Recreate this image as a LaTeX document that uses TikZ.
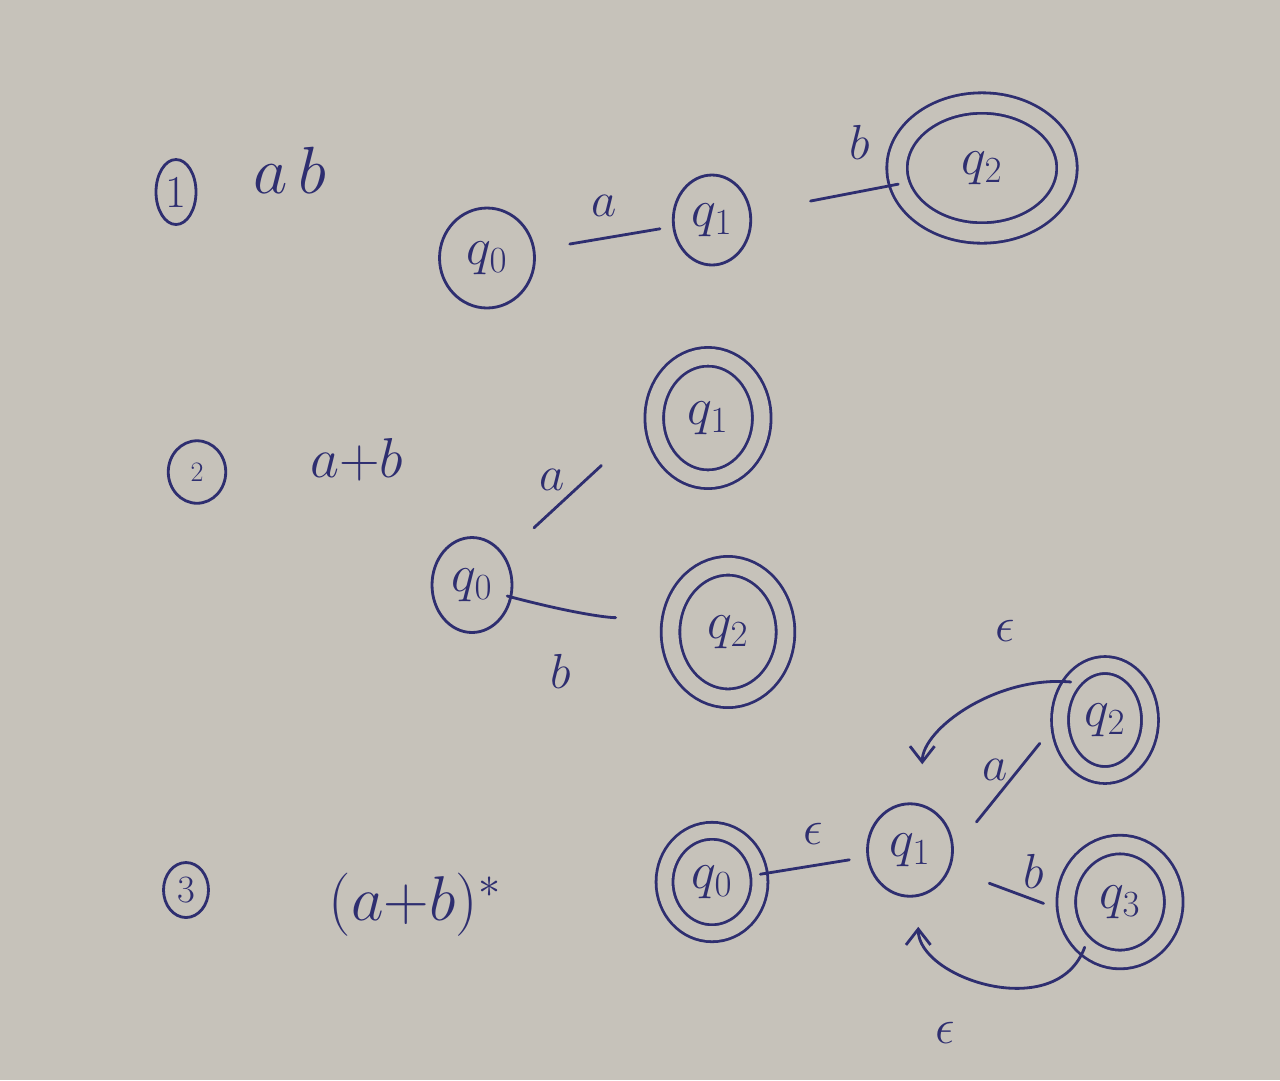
\RequirePackage{fix-cm}
\documentclass[tikz,border=0pt]{standalone}
\usepackage{amsmath,amssymb}
\usepackage{tikz}
\usetikzlibrary{shapes.geometric, arrows.meta, positioning}
\definecolor{paper}{RGB}{198,194,186}
\definecolor{ink}{RGB}{46,46,112}
\tikzstyle{state} = [ellipse, draw=ink, line width=1.6pt, inner sep=0pt, text=ink, font=\fontsize{30}{34}\selectfont]
\tikzstyle{final} = [state, double=paper, double distance=8pt]
\tikzstyle{tag} = [ellipse, draw=ink, line width=1.6pt, inner sep=0pt, text=ink]
\tikzstyle{expr} = [text=ink, font=\fontsize{36}{42}\selectfont]
\tikzstyle{sym} = [text=ink, font=\fontsize{28}{32}\selectfont]
\tikzstyle{link} = [draw=ink, line width=1.6pt, line cap=round]
\tikzstyle{arrow} = [link, -{Straight Barb[length=9pt, width=14pt]}]

\begin{document}
\begin{tikzpicture}[x=0.02cm, y=-0.02cm]
\useasboundingbox (0,0) rectangle (1280,1080);
\fill[paper] (0,0) rectangle (1280,1080);

% Part 1: ab
\node (tagA) [tag, minimum width=0.8cm, minimum height=1.3cm, font=\fontsize{26}{30}\selectfont] at (176,192) {1};
\node (exprA) [expr, font=\fontsize{38}{44}\selectfont] at (290,170) {$a\,b$};
\node (q0A) [state, minimum width=1.9cm, minimum height=2cm] at (487,258) {$q_0$};
\node (q1A) [state, minimum width=1.55cm, minimum height=1.8cm] at (712,220) {$q_1$};
\node (q2A) [final, minimum width=3.4cm, minimum height=2.6cm, double distance=10pt] at (982,168) {$q_2$};

\draw [link, shorten <=0.7cm, shorten >=0.25cm] (q0A) -- node[sym, above=8pt] {$a$} (q1A);
\draw [link, shorten <=1.2cm] (q1A) -- node[sym, above=14pt, pos=0.74] {$b$} (q2A);

% Part 2: a+b
\node (tagB) [tag, minimum width=1.15cm, minimum height=1.25cm, font=\fontsize{16}{20}\selectfont] at (197,472) {2};
\node (exprB) [expr, font=\fontsize{32}{38}\selectfont] at (357,460) {$a{+}b$};
\node (q0B) [state, minimum width=1.6cm, minimum height=1.9cm] at (472,585) {$q_0$};
\node (q1B) [final, minimum width=2.15cm, minimum height=2.45cm, double distance=9pt] at (708,418) {$q_1$};
\node (q2B) [final, minimum width=2.3cm, minimum height=2.65cm, double distance=9pt] at (728,632) {$q_2$};

\draw [link, shorten <=0.8cm, shorten >=1.4cm] (q0B) -- node[sym, left=8pt, pos=0.55] {$a$} (q1B.west);
\draw [link, shorten <=-0.1cm, shorten >=1.1cm] (q0B) to[bend right=8] node[sym, below=22pt, pos=0.3] {$b$} (q2B.165);

% Part 3: (a+b)*
\node (tagC) [tag, minimum width=0.9cm, minimum height=1.1cm, font=\fontsize{22}{26}\selectfont] at (186,890) {3};
\node (exprC) [expr] at (415,905) {$(a{+}b)^{*}$};
\node (q0C) [final, minimum width=1.9cm, minimum height=2.05cm] at (712,882) {$q_0$};
\node (q1C) [state, minimum width=1.7cm, minimum height=1.85cm] at (910,850) {$q_1$};
\node (q2C) [final, minimum width=1.8cm, minimum height=2.2cm] at (1105,720) {$q_2$};
\node (q3C) [final, minimum width=2.15cm, minimum height=2.3cm, double distance=9pt] at (1120,902) {$q_3$};

\draw [link, shorten >=0.35cm] (q0C) -- node[sym, above=8pt] {$\epsilon$} (q1C);
\draw [link, shorten <=0.72cm, shorten >=0.6cm] (q1C.east) -- node[sym, left=2pt, pos=0.62] {$a$} (q2C.west);
\draw [link, shorten <=0.83cm, shorten >=0.47cm] (q1C.-25) -- node[sym, above=2pt, pos=0.72] {$b$} (q3C.190);
\draw [arrow, shorten >=0.8cm] (q2C.132) to[out=175, in=90] node[sym, above=24pt, pos=0.3] {$\epsilon$} (q1C.75);
\draw [arrow, shorten >=0.6cm] (q3C.232) to[out=250, in=270, looseness=1.2] node[sym, below=34pt, pos=0.72] {$\epsilon$} (q1C.-80);

\end{tikzpicture}
\end{document}
